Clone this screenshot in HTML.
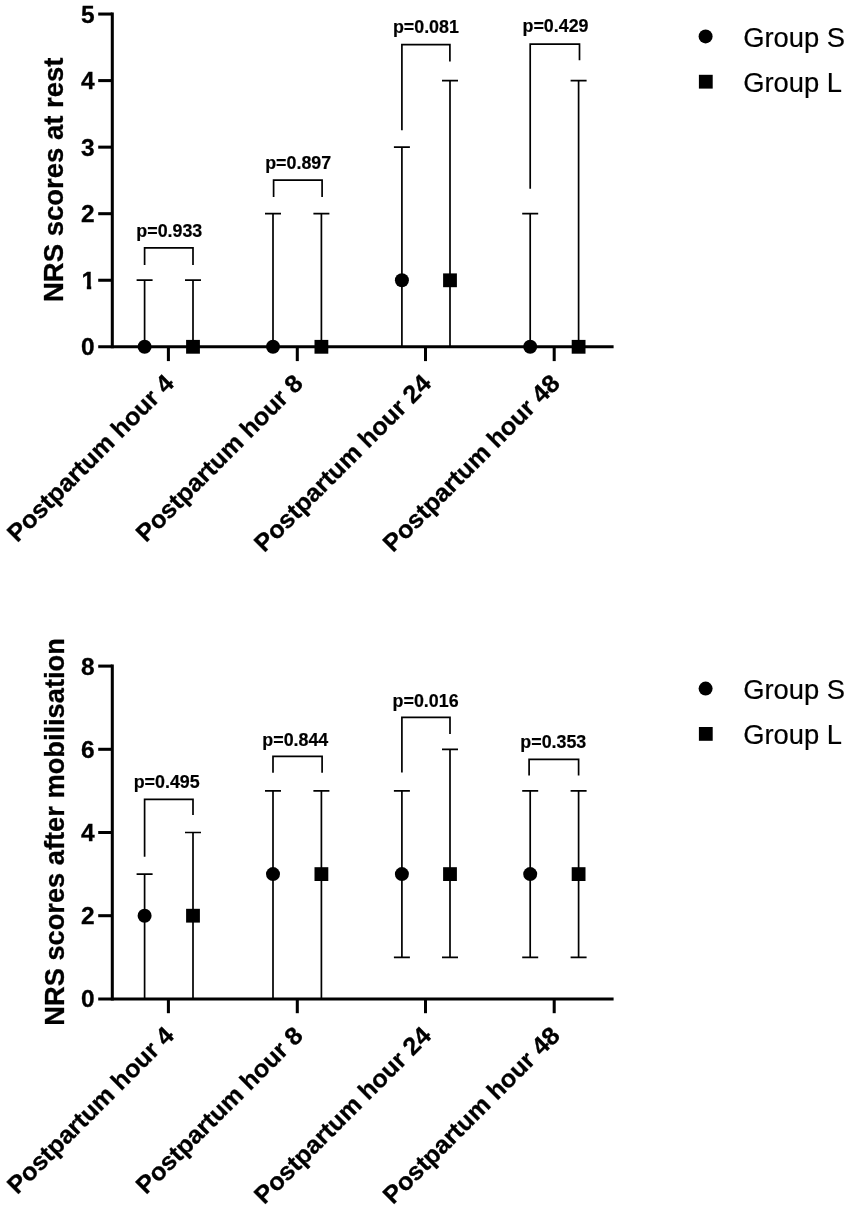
<!DOCTYPE html>
<html lang="en"><head><meta charset="utf-8"><title>NRS scores</title>
<style>
html,body{margin:0;padding:0;background:#fff}
svg{display:block;filter:blur(.4px)}
text{font-family:"Liberation Sans",sans-serif;fill:#000}
.tk,.yl,.xl{stroke:#000;stroke-width:.3px}
.pt{stroke:#000;stroke-width:.2px}
.lg{stroke:#000;stroke-width:.2px}
.tk{font-size:24.75px;font-weight:bold}
.yl{font-size:27.17px;font-weight:bold}
.pt{font-size:17.85px;font-weight:bold}
.xl{font-size:24.70px;font-weight:bold}
.lg{font-size:27.62px}
</style></head><body>
<svg width="850" height="1209" viewBox="0 0 850 1209">
<rect width="850" height="1209" fill="#fff"/>
<g>
<g stroke="#000" stroke-width="1.7" fill="none">
<path d="M144.6 346.8V280.2M136.6 280.2H152.6"/>
<path d="M193.0 346.8V280.2M185.0 280.2H201.0"/>
<path d="M273.0 346.8V213.7M265.0 213.7H281.0"/>
<path d="M321.4 346.8V213.7M313.4 213.7H329.4"/>
<path d="M401.9 346.8V147.2M393.9 147.2H409.9"/>
<path d="M450.0 346.8V80.6M442.0 80.6H458.0"/>
<path d="M530.2 346.8V213.7M522.2 213.7H538.2"/>
<path d="M578.6 346.8V80.6M570.6 80.6H586.6"/>
<path d="M144.6 265.0V247.8H193.0V265.0"/>
<path d="M273.6 197.0V180.2H322.1V197.0"/>
<path d="M401.9 130.3V44.6H449.9V61.4"/>
<path d="M530.2 188.7V44.2H579.5V60.2"/>
</g>
<g stroke="#000" stroke-width="3.05" fill="none">
<path d="M112.3 12.53V348.32"/>
<path d="M98.2 346.80H613.6"/>
<path d="M98.2 280.25H112.3"/>
<path d="M98.2 213.70H112.3"/>
<path d="M98.2 147.15H112.3"/>
<path d="M98.2 80.60H112.3"/>
<path d="M98.2 14.05H112.3"/>
<path d="M168.4 346.80V361.10"/>
<path d="M297.3 346.80V361.10"/>
<path d="M425.5 346.80V361.10"/>
<path d="M554.2 346.80V361.10"/>
</g>
<circle cx="144.6" cy="346.8" r="7"/>
<rect x="186.1" y="339.9" width="13.8" height="13.8"/>
<circle cx="273.0" cy="346.8" r="7"/>
<rect x="314.5" y="339.9" width="13.8" height="13.8"/>
<circle cx="401.9" cy="280.2" r="7"/>
<rect x="443.1" y="273.4" width="13.8" height="13.8"/>
<circle cx="530.2" cy="346.8" r="7"/>
<rect x="571.7" y="339.9" width="13.8" height="13.8"/>
<g class="tk">
<text class="tk" transform="translate(94.6 355.3) scale(0.9901 1)" text-anchor="end">0</text>
<text class="tk" transform="translate(95.1 288.8) scale(0.9901 1)" text-anchor="end">1</text>
<rect x="81" y="285.05" width="5.8" height="5" fill="#fff" stroke="none"/><rect x="91.25" y="285.05" width="4.6" height="5" fill="#fff" stroke="none"/>
<text class="tk" transform="translate(94.6 222.2) scale(0.9901 1)" text-anchor="end">2</text>
<text class="tk" transform="translate(94.6 155.7) scale(0.9901 1)" text-anchor="end">3</text>
<text class="tk" transform="translate(94.6 89.1) scale(0.9901 1)" text-anchor="end">4</text>
<text class="tk" transform="translate(94.6 22.6) scale(0.9901 1)" text-anchor="end">5</text>
</g>
<text class="yl" transform="translate(62.9 179.8) rotate(-90) scale(1.0152 1)" text-anchor="middle" style="font-size:27.09px">NRS scores at rest</text>
<g class="pt">
<text class="pt" transform="translate(169.3 236.5) scale(1.0000 1)" text-anchor="middle">p=0.933</text>
<text class="pt" transform="translate(298.2 169.1) scale(1.0000 1)" text-anchor="middle">p=0.897</text>
<text class="pt" transform="translate(425.9 33.3) scale(1.0000 1)" text-anchor="middle">p=0.081</text>
<text class="pt" transform="translate(555.5 32.3) scale(1.0000 1)" text-anchor="middle">p=0.429</text>
</g>
<g class="xl">
<text class="xl" transform="translate(175.5 384.9) rotate(-45) scale(1.0204 1)" text-anchor="end">Postpartum hour 4</text>
<text class="xl" transform="translate(304.4 384.9) rotate(-45) scale(1.0204 1)" text-anchor="end">Postpartum hour 8</text>
<text class="xl" transform="translate(432.6 384.9) rotate(-45) scale(1.0204 1)" text-anchor="end">Postpartum hour 24</text>
<text class="xl" transform="translate(561.3 384.9) rotate(-45) scale(1.0204 1)" text-anchor="end">Postpartum hour 48</text>
</g>
<circle cx="705.6" cy="36.4" r="7"/>
<rect x="698.9" y="74.8" width="13.8" height="13.8"/>
<text class="lg" transform="translate(743.2 46.5) scale(0.9901 1)">Group S</text>
<text class="lg" transform="translate(743.2 91.8) scale(0.9901 1)">Group L</text>
</g>
<g>
<g stroke="#000" stroke-width="1.7" fill="none">
<path d="M144.6 998.9V874.1M136.6 874.1H152.6"/>
<path d="M193.0 998.9V832.5M185.0 832.5H201.0"/>
<path d="M273.0 998.9V790.9M265.0 790.9H281.0"/>
<path d="M321.4 998.9V790.9M313.4 790.9H329.4"/>
<path d="M401.9 957.3V790.9M393.9 790.9H409.9M393.9 957.3H409.9"/>
<path d="M450.0 957.3V749.3M442.0 749.3H458.0M442.0 957.3H458.0"/>
<path d="M530.2 957.3V790.9M522.2 790.9H538.2M522.2 957.3H538.2"/>
<path d="M578.6 957.3V790.9M570.6 790.9H586.6M570.6 957.3H586.6"/>
<path d="M144.6 856.8V799.4H193.0V814.9"/>
<path d="M273.0 772.8V756.3H322.1V772.8"/>
<path d="M401.9 772.5V717.4H450.0V733.9"/>
<path d="M529.1 775.5V759.3H578.6V775.5"/>
</g>
<g stroke="#000" stroke-width="3.05" fill="none">
<path d="M112.3 664.57V1000.42"/>
<path d="M98.2 998.90H613.6"/>
<path d="M98.2 915.70H112.3"/>
<path d="M98.2 832.50H112.3"/>
<path d="M98.2 749.30H112.3"/>
<path d="M98.2 666.10H112.3"/>
<path d="M168.4 998.90V1013.20"/>
<path d="M297.3 998.90V1013.20"/>
<path d="M425.5 998.90V1013.20"/>
<path d="M554.2 998.90V1013.20"/>
</g>
<circle cx="144.6" cy="915.7" r="7"/>
<rect x="186.1" y="908.8" width="13.8" height="13.8"/>
<circle cx="273.0" cy="874.1" r="7"/>
<rect x="314.5" y="867.2" width="13.8" height="13.8"/>
<circle cx="401.9" cy="874.1" r="7"/>
<rect x="443.1" y="867.2" width="13.8" height="13.8"/>
<circle cx="530.2" cy="874.1" r="7"/>
<rect x="571.7" y="867.2" width="13.8" height="13.8"/>
<g class="tk">
<text class="tk" transform="translate(94.6 1007.4) scale(0.9901 1)" text-anchor="end">0</text>
<text class="tk" transform="translate(94.6 924.2) scale(0.9901 1)" text-anchor="end">2</text>
<text class="tk" transform="translate(94.6 841.0) scale(0.9901 1)" text-anchor="end">4</text>
<text class="tk" transform="translate(94.6 757.8) scale(0.9901 1)" text-anchor="end">6</text>
<text class="tk" transform="translate(94.6 674.6) scale(0.9901 1)" text-anchor="end">8</text>
</g>
<text class="yl" transform="translate(63.7 831.9) rotate(-90) scale(1.0152 1)" text-anchor="middle" style="font-size:26.84px">NRS scores after mobilisation</text>
<g class="pt">
<text class="pt" transform="translate(166.7 787.9) scale(1.0000 1)" text-anchor="middle">p=0.495</text>
<text class="pt" transform="translate(295.3 746.1) scale(1.0000 1)" text-anchor="middle">p=0.844</text>
<text class="pt" transform="translate(425.6 707.0) scale(1.0000 1)" text-anchor="middle">p=0.016</text>
<text class="pt" transform="translate(553.3 748.0) scale(1.0000 1)" text-anchor="middle">p=0.353</text>
</g>
<g class="xl">
<text class="xl" transform="translate(175.5 1037.0) rotate(-45) scale(1.0204 1)" text-anchor="end">Postpartum hour 4</text>
<text class="xl" transform="translate(304.4 1037.0) rotate(-45) scale(1.0204 1)" text-anchor="end">Postpartum hour 8</text>
<text class="xl" transform="translate(432.6 1037.0) rotate(-45) scale(1.0204 1)" text-anchor="end">Postpartum hour 24</text>
<text class="xl" transform="translate(561.3 1037.0) rotate(-45) scale(1.0204 1)" text-anchor="end">Postpartum hour 48</text>
</g>
<circle cx="705.6" cy="688.6" r="7"/>
<rect x="698.9" y="727.0" width="13.8" height="13.8"/>
<text class="lg" transform="translate(743.2 698.8) scale(0.9901 1)">Group S</text>
<text class="lg" transform="translate(743.2 744.1) scale(0.9901 1)">Group L</text>
</g>
</svg>
</body></html>
